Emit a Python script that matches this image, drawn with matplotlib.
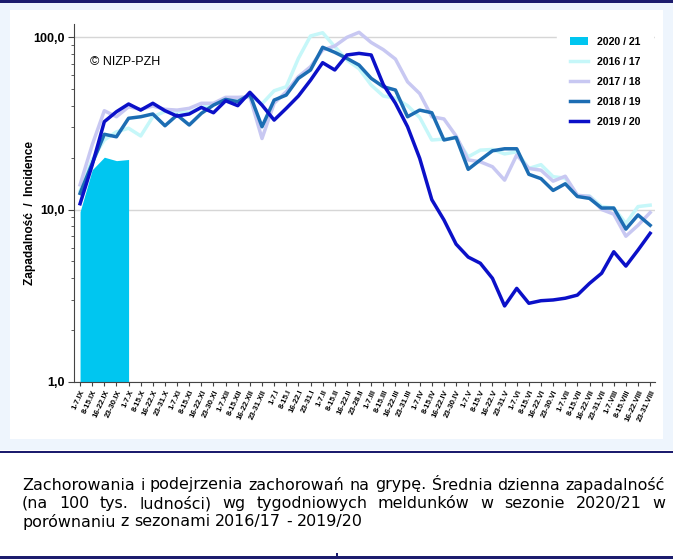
import matplotlib
matplotlib.use("Agg")
import matplotlib.pyplot as plt
import numpy as np
from matplotlib.patches import Rectangle
from matplotlib.ticker import NullFormatter, LogLocator

# weekly reporting periods, season starts in September
weeks = ["1-7.IX", "8-15.IX", "16-22.IX", "23-30.IX",
         "1-7.X", "8-15.X", "16-22.X", "23-31.X",
         "1-7.XI", "8-15.XI", "16-22.XI", "23-30.XI",
         "1-7.XII", "8-15.XII", "16-22.XII", "23-31.XII",
         "1-7.I", "8-15.I", "16-22.I", "23-31.I",
         "1-7.II", "8-15.II", "16-22.II", "23-28.II",
         "1-7.III", "8-15.III", "16-22.III", "23-31.III",
         "1-7.IV", "8-15.IV", "16-22.IV", "23-30.IV",
         "1-7.V", "8-15.V", "16-22.V", "23-31.V",
         "1-7.VI", "8-15.VI", "16-22.VI", "23-30.VI",
         "1-7.VII", "8-15.VII", "16-22.VII", "23-31.VII",
         "1-7.VIII", "8-15.VIII", "16-22.VIII", "23-31.VIII"]

# incidence per 100 000
s2020 = [9.7, 17.0, 20.1, 19.2, 19.5]

s2016 = [12.8, 19.5, 25.3, 28.2, 29.6, 26.7, 34.5, 37.0, 37.0, 36.5,
         39.0, 41.0, 43.5, 43.0, 45.5, 41.0, 48.8, 51.5, 75.2, 101.4,
         105.9, 87.9, 73.6, 65.5, 52.7, 45.5, 44.2, 40.0, 34.2, 25.3,
         25.6, 26.0, 20.2, 22.1, 22.3, 21.0, 21.6, 17.3, 18.2, 15.5,
         15.2, 12.0, 12.0, 10.4, 10.2, 8.3, 10.4, 10.6]

s2017 = [13.9, 23.7, 37.4, 34.5, 39.4, 38.1, 39.8, 38.1, 37.7, 38.6,
         41.3, 41.3, 44.7, 44.7, 45.0, 25.8, 41.3, 48.2, 58.9, 67.3,
         84.1, 88.7, 99.6, 106.5, 93.0, 84.5, 74.5, 55.0, 47.0, 34.5,
         33.5, 26.7, 19.4, 18.9, 17.7, 14.8, 20.7, 17.3, 16.9, 14.6,
         15.6, 12.1, 11.9, 10.0, 9.4, 7.0, 8.1, 9.6]

s2018 = [12.4, 18.5, 27.3, 26.4, 33.8, 34.5, 35.8, 30.6, 35.3, 30.9,
         36.1, 40.3, 43.5, 42.2, 46.5, 30.2, 43.1, 46.1, 57.6, 64.4,
         87.2, 81.5, 75.2, 68.8, 57.6, 51.5, 49.3, 34.5, 37.7, 36.4,
         25.3, 26.2, 17.1, 19.4, 21.9, 22.5, 22.5, 16.0, 15.1, 12.9,
         14.1, 11.9, 11.6, 10.2, 10.2, 7.7, 9.3, 8.1]

s2019 = [10.8, 18.1, 32.3, 36.9, 40.9, 37.7, 41.3, 37.4, 34.8, 35.8,
         39.1, 36.4, 42.7, 40.0, 47.8, 40.3, 33.0, 38.6, 45.5, 56.2,
         71.0, 64.4, 78.7, 80.4, 78.7, 53.0, 41.3, 30.2, 19.8, 11.4,
         8.7, 6.3, 5.3, 4.88, 3.99, 2.76, 3.49, 2.86, 2.96, 2.99,
         3.06, 3.19, 3.73, 4.27, 5.69, 4.7, 5.82, 7.28]

caption = ["Zachorowania i podejrzenia zachorowań na grypę. Średnia dzienna zapadalność",
           "(na 100 tys. ludności) wg tygodniowych meldunków w sezonie 2020/21 w",
           "porównaniu z sezonami 2016/17 - 2019/20"]

W, H = 673, 559
plt.rcParams['font.family'] = ['Liberation Sans', 'DejaVu Sans']

fig = plt.figure(figsize=(W / 100, H / 100), dpi=100)

def box(x0, y0, x1, y1, color):
    # rectangle given in pixels from the top left corner
    fig.patches.append(Rectangle((x0 / W, 1 - y1 / H), (x1 - x0) / W, (y1 - y0) / H,
                                 transform=fig.transFigure, color=color, lw=0, zorder=-5))

navy = "#1c1c6e"
box(0, 3, W, 450, "#eef5fd")
box(10, 10, 663, 439, "white")
box(0, 0, W, 2.5, navy)
box(0, 450.5, W, 453, navy)
box(0, 556, W, 559, navy)
box(336, 553, 337.5, 559, navy)

ax = fig.add_axes([74 / W, 1 - 382 / H, (655 - 74) / W, (382 - 24) / H])
ax.set_facecolor("none")

x = np.arange(len(weeks))
ax.fill_between(x[:len(s2020)], s2020, 1, color="#00c6f0", lw=0, label="2020 / 21", zorder=2)
ax.plot(x, s2016, color="#c6f7f9", lw=2.5, label="2016 / 17", zorder=3)
ax.plot(x, s2017, color="#c8c8f2", lw=2.5, label="2017 / 18", zorder=3)
ax.plot(x, s2018, color="#1c6db3", lw=2.5, label="2018 / 19", zorder=4)
ax.plot(x, s2019, color="#0b10c8", lw=2.5, label="2019 / 20", zorder=5)

ax.set_yscale("log")
ax.set_ylim(1, 119)
ax.set_xlim(-0.5, 47.4)
ax.set_yticks([1, 10, 100])
ax.set_yticklabels(["1,0", "10,0", "100,0"], fontweight="bold", fontsize=9)
ax.yaxis.set_minor_locator(LogLocator(subs=range(2, 10)))
ax.yaxis.set_minor_formatter(NullFormatter())
ax.grid(axis="y", which="major", color="#d6d6d6", lw=1, zorder=0)
ax.set_axisbelow(True)

ax.set_xticks(x)
ax.set_xticklabels(weeks, rotation=65, ha="right", rotation_mode="anchor",
                   fontsize=5.7, fontweight="bold")
ax.tick_params(axis="x", length=3, pad=2, color="#444444")
ax.tick_params(axis="y", which="major", length=4, pad=3, color="#444444")
ax.tick_params(axis="y", which="minor", length=2.5, color="#444444")
for s in ["top", "right"]:
    ax.spines[s].set_visible(False)
for s in ["left", "bottom"]:
    ax.spines[s].set_color("#444444")

leg = ax.legend(loc="upper left", bbox_to_anchor=(557 / W, 1 - 24 / H),
                bbox_transform=fig.transFigure, frameon=True, fancybox=False,
                edgecolor="white", facecolor="white", framealpha=1,
                prop={"weight": "bold", "size": 7.6}, handlelength=1.75,
                handletextpad=0.8, labelspacing=0.95, borderpad=1.2,
                borderaxespad=0)
leg.set_zorder(6)

fig.text(90 / W, 1 - 62 / H, "© NIZP-PZH", fontsize=9, va="center", ha="left")
fig.text(30 / W, 1 - 213 / H, "Zapadalność  /  Incidence", rotation=90,
         fontsize=8.6, fontweight="bold", va="center", ha="center")

# caption under the chart, first two lines justified
cfont = 11.4
r = fig.canvas.get_renderer()
sp = fig.text(0, 0, "a a", fontsize=cfont, family="DejaVu Sans")
nsp = fig.text(0, 0, "aa", fontsize=cfont, family="DejaVu Sans")
space = sp.get_window_extent(r).width - nsp.get_window_extent(r).width
sp.remove()
nsp.remove()

x0, x1 = 22, 665
for k, line in enumerate(caption):
    y = 485 + 18.3 * k
    words = line.split()
    texts = [fig.text(0, 1 - y / H, w, fontsize=cfont, family="DejaVu Sans",
                      va="center", ha="left") for w in words]
    widths = [t.get_window_extent(r).width for t in texts]
    if k < len(caption) - 1:
        gap = (x1 - x0 - sum(widths)) / (len(words) - 1)
    else:
        gap = space
    pos = x0
    for t, w in zip(texts, widths):
        t.set_x(pos / W)
        pos += w + gap

fig.savefig("out.png", dpi=100, facecolor="white")
